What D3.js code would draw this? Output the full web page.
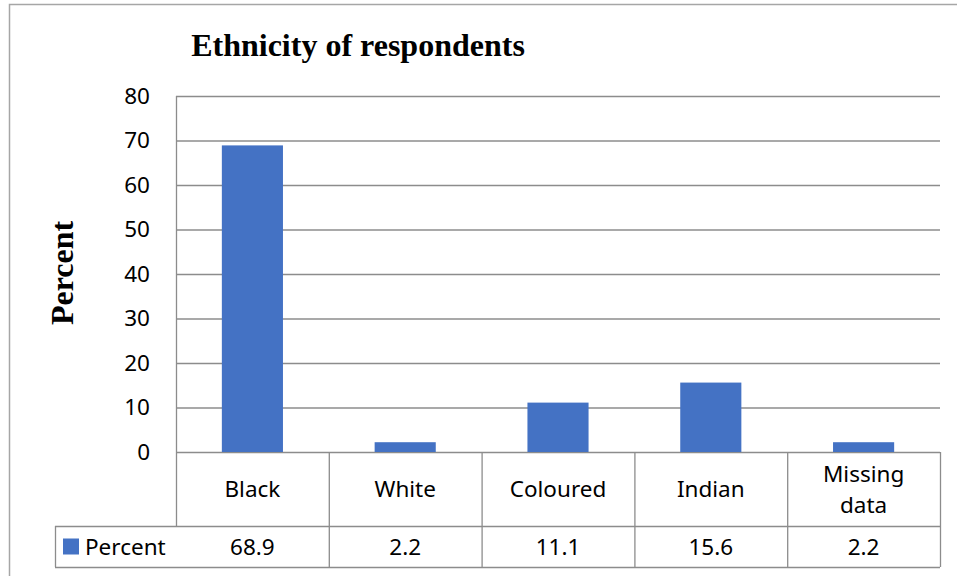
<!DOCTYPE html>
<html><head><meta charset="utf-8">
<script src="https://cdn.jsdelivr.net/npm/d3@7"></script>
<style>body{margin:0;background:#fff}svg{display:block}</style>
</head><body>
<svg id="c" width="957" height="576"></svg>
<script>
const categories = ["Black", "White", "Coloured", "Indian", "Missing data"];
const categoryLines = [["Black"], ["White"], ["Coloured"], ["Indian"], ["Missing", "data"]];
const percentValues = [68.9, 2.2, 11.1, 15.6, 2.2];
const valueLabels = ["68.9", "2.2", "11.1", "15.6", "2.2"];
const yTicks = [0, 10, 20, 30, 40, 50, 60, 70, 80];
const seriesName = "Percent";
const titleText = "Ethnicity of respondents";
const yAxisTitle = "Percent";

const svg = d3.select("#c");
const L = 176, R = 940, T = 96, B = 452;
const rowH1 = 74, rowH2 = 41, legendLeft = 55;
const grid = "#8c8c8c", barColor = "#4472c4";
const sans = "'Noto Sans', 'Open Sans', sans-serif";
const serif = "'Liberation Serif', 'Times New Roman', serif";
const fs = 22.5;

// outer frame
svg.append("rect").attr("x", 9.5).attr("y", 4.5).attr("width", 960).attr("height", 600)
  .attr("fill", "none").attr("stroke", "#a6a6a6").attr("stroke-width", 1.5);

const x = d3.scaleBand().domain(categories).range([L, R]).paddingInner(0.6).paddingOuter(0.3);
const xc = d3.scaleBand().domain(categories).range([L, R]);
const y = d3.scaleLinear().domain([0, 80]).range([B, T]);

// gridlines
svg.append("g").selectAll("line").data(yTicks).join("line")
  .attr("x1", L).attr("x2", R).attr("y1", d => y(d) + 0.5).attr("y2", d => y(d) + 0.5)
  .attr("stroke", grid).attr("stroke-width", 1.3);
// left axis line
svg.append("line").attr("x1", L + 0.5).attr("x2", L + 0.5).attr("y1", T).attr("y2", B + rowH1)
  .attr("stroke", grid).attr("stroke-width", 1.3);

// y axis
const yAxis = d3.axisLeft(y).tickValues(yTicks).tickSize(0).tickPadding(26);
const ga = svg.append("g").attr("transform", `translate(${L},0)`).call(yAxis);
ga.select(".domain").remove();
ga.selectAll("text").attr("font-family", sans).attr("font-size", fs).attr("fill", "#000");

// bars
svg.append("g").selectAll("rect").data(percentValues).join("rect")
  .attr("x", (d, i) => x(categories[i]))
  .attr("width", x.bandwidth())
  .attr("y", d => y(d))
  .attr("height", d => y(0) - y(d))
  .attr("fill", barColor);

// data table
const tg = svg.append("g").attr("stroke", grid).attr("stroke-width", 1.3).attr("fill", "none");
const yRow1 = B, yRow2 = B + rowH1, yEnd = B + rowH1 + rowH2;
tg.append("line").attr("x1", legendLeft).attr("x2", R).attr("y1", yRow2 + 0.5).attr("y2", yRow2 + 0.5);
tg.append("line").attr("x1", legendLeft).attr("x2", R).attr("y1", yEnd + 0.5).attr("y2", yEnd + 0.5);
tg.append("line").attr("x1", legendLeft + 0.5).attr("x2", legendLeft + 0.5).attr("y1", yRow2).attr("y2", yEnd);
categories.forEach(c => {
  const xr = xc(c) + xc.bandwidth();
  tg.append("line").attr("x1", xr + 0.5).attr("x2", xr + 0.5).attr("y1", yRow1).attr("y2", yEnd);
});

// category labels
categories.forEach((c, i) => {
  const lines = categoryLines[i];
  const cx = xc(c) + xc.bandwidth() / 2;
  const cy = yRow1 + rowH1 / 2;
  const lh = 31;
  lines.forEach((t, j) => {
    svg.append("text").attr("x", cx).attr("y", cy + (j - (lines.length - 1) / 2) * lh)
      .attr("dy", "0.36em").attr("text-anchor", "middle")
      .attr("font-family", sans).attr("font-size", fs).text(t);
  });
  svg.append("text").attr("x", cx).attr("y", yRow2 + rowH2 / 2).attr("dy", "0.36em")
    .attr("text-anchor", "middle").attr("font-family", sans).attr("font-size", fs).text(valueLabels[i]);
});

// legend key in table
svg.append("rect").attr("x", 63).attr("y", yRow2 + rowH2 / 2 - 8).attr("width", 16).attr("height", 16).attr("fill", barColor);
svg.append("text").attr("x", 85).attr("y", yRow2 + rowH2 / 2).attr("dy", "0.36em")
  .attr("font-family", sans).attr("font-size", fs).text(seriesName);

// title
svg.append("text").attr("x", 358).attr("y", 56).attr("text-anchor", "middle")
  .attr("font-family", serif).attr("font-weight", "bold").attr("font-size", 32).text(titleText);

// y axis title
svg.append("text").attr("transform", "translate(73,273) rotate(-90)").attr("text-anchor", "middle")
  .attr("font-family", serif).attr("font-weight", "bold").attr("font-size", 32).text(yAxisTitle);
</script>
</body></html>
